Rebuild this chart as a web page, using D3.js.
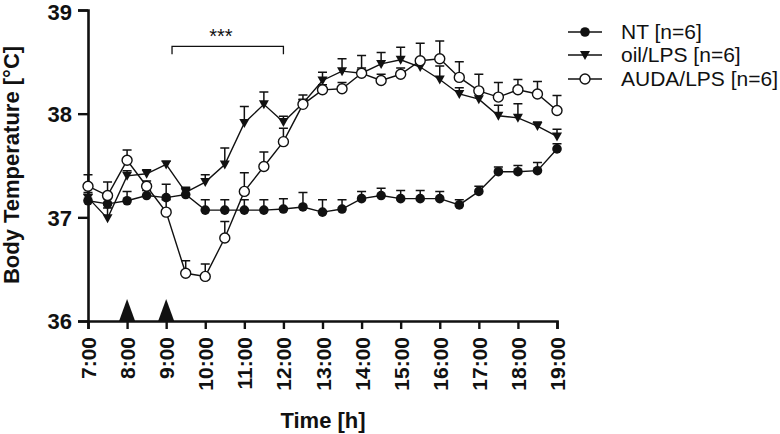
<!DOCTYPE html>
<html>
<head>
<meta charset="utf-8">
<script src="https://cdn.jsdelivr.net/npm/d3@7"></script>
<style>
  body { margin: 0; background: #fff; }
  svg { font-family: "Liberation Sans", Arial, sans-serif; }
</style>
</head>
<body>
<div id="draw"></div>
<script>
// body temperature time course, three groups, mean + upper SEM
var times = [7, 7.5, 8, 8.5, 9, 9.5, 10, 10.5, 11, 11.5, 12, 12.5, 13, 13.5, 14, 14.5, 15, 15.5, 16, 16.5, 17, 17.5, 18, 18.5, 19];
var hourTicks = [7, 8, 9, 10, 11, 12, 13, 14, 15, 16, 17, 18, 19];
var tempTicks = [36, 37, 38, 39];

var ntMean  = [37.16, 37.13, 37.16, 37.21, 37.19, 37.22, 37.07, 37.07, 37.07, 37.07, 37.08, 37.10, 37.05, 37.08, 37.18, 37.21, 37.18, 37.18, 37.18, 37.12, 37.25, 37.44, 37.44, 37.45, 37.66];
var ntErr   = [0.06, 0.05, 0.09, 0.05, 0.13, 0.06, 0.10, 0.10, 0.10, 0.10, 0.10, 0.14, 0.12, 0.09, 0.07, 0.07, 0.08, 0.08, 0.07, 0.05, 0.05, 0.045, 0.06, 0.08, 0.05];
var oilMean = [37.19, 36.99, 37.40, 37.42, 37.51, 37.24, 37.34, 37.51, 37.91, 38.09, 37.92, 38.10, 38.32, 38.41, 38.39, 38.48, 38.52, 38.45, 38.33, 38.19, 38.14, 37.98, 37.96, 37.88, 37.78];
var oilErr  = [0.05, 0.10, 0.05, 0.04, 0.03, 0.05, 0.07, 0.16, 0.16, 0.12, 0.055, 0.08, 0.08, 0.12, 0.17, 0.11, 0.12, 0.06, 0.13, 0.06, 0.06, 0.10, 0.135, 0.04, 0.07];
var audaMean = [37.30, 37.21, 37.55, 37.30, 37.05, 36.46, 36.43, 36.80, 37.25, 37.49, 37.73, 38.09, 38.23, 38.24, 38.39, 38.32, 38.38, 38.51, 38.53, 38.35, 38.22, 38.16, 38.23, 38.19, 38.03];
var audaErr  = [0.11, 0.13, 0.10, 0.05, 0.12, 0.12, 0.12, 0.16, 0.18, 0.14, 0.13, 0.05, 0.05, 0.06, 0.05, 0.06, 0.06, 0.17, 0.17, 0.15, 0.16, 0.14, 0.10, 0.12, 0.145];

var groupNames = ['NT [n=6]', 'oil/LPS [n=6]', 'AUDA/LPS [n=6]'];
var injections = [8, 9];          // LPS / treatment arrows on the x axis
var sigRange = [9.15, 12];        // *** bracket
var sigLevel = 38.65;

window.onload = function () {
    var svg = d3.select('#draw').append('svg').attr('width', 780).attr('height', 434);

    var x = d3.scaleLinear().domain([7, 19]).range([88, 557]);
    var y = d3.scaleLinear().domain([36, 39]).range([321, 10]);

    // axes
    var yAxis = d3.axisLeft(y).tickValues(tempTicks).tickSize(10).tickPadding(6).tickFormat(d3.format('d'));
    var gy = svg.append('g').attr('transform', 'translate(88,0)').call(yAxis);
    var xAxis = d3.axisBottom(x).tickValues(hourTicks).tickSize(8).tickFormat(function (d) { return d + ':00'; });
    var gx = svg.append('g').attr('transform', 'translate(0,321)').call(xAxis);

    [gx, gy].forEach(function (g) {
        g.select('.domain').attr('stroke', '#111').attr('stroke-width', 2.6);
        g.selectAll('.tick line').attr('stroke', '#111').attr('stroke-width', 2.4);
        g.selectAll('.tick text').attr('fill', '#111').style('font-size', '22px').style('font-weight', 'bold');
    });
    gy.selectAll('.tick text').attr('dy', '0.36em');
    gy.selectAll('.tick text').filter(function (d) { return d === 39; }).attr('dy', '0.42em');
    gx.selectAll('.tick text')
        .attr('transform', 'rotate(-90)')
        .attr('text-anchor', 'end')
        .attr('x', -16).attr('y', 0).attr('dy', '0.36em')
        .style('font-size', '21px');

    svg.append('text').attr('transform', 'translate(19,165) rotate(-90)')
        .attr('text-anchor', 'middle').style('font-size', '22px').style('font-weight', 'bold').attr('fill', '#111')
        .text('Body Temperature [°C]');
    svg.append('text').attr('x', 323).attr('y', 428)
        .attr('text-anchor', 'middle').style('font-size', '22px').style('font-weight', 'bold').attr('fill', '#111')
        .text('Time [h]');

    // injection arrowheads
    svg.selectAll('path.inj').data(injections).enter().append('path').attr('class', 'inj')
        .attr('d', function (d) { var cx = x(d); return 'M' + (cx - 8) + ',321 L' + cx + ',299 L' + (cx + 8) + ',321 Z'; })
        .attr('fill', '#111');

    // significance bracket
    var y0 = y(sigLevel), y1 = y(sigLevel) + 8;
    svg.append('path')
        .attr('d', 'M' + x(sigRange[0]) + ',' + y1 + ' V' + y0 + ' H' + x(sigRange[1]) + ' V' + y1)
        .attr('fill', 'none').attr('stroke', '#111').attr('stroke-width', 1.3);
    svg.append('text').attr('x', x(10.4)).attr('y', 43).attr('text-anchor', 'middle')
        .style('font-size', '20px').attr('fill', '#111').text('***');

    var groups = [
        { mean: ntMean, err: ntErr, shape: 'dot' },
        { mean: oilMean, err: oilErr, shape: 'tri' },
        { mean: audaMean, err: audaErr, shape: 'open' }
    ];

    var line = d3.line().x(function (d) { return x(d.t); }).y(function (d) { return y(d.v); });

    function addShape(m, shape) {
        if (shape === 'dot') {
            m.append('circle').attr('r', 4.8).attr('fill', '#111');
        } else if (shape === 'open') {
            m.append('circle').attr('r', 5).attr('fill', '#fff').attr('stroke', '#111').attr('stroke-width', 1.4);
        } else {
            m.append('path').attr('d', 'M-5,-4 L5,-4 L0,5 Z').attr('fill', '#111');
        }
    }

    groups.forEach(function (g) {
        var pts = times.map(function (t, i) { return { t: t, v: g.mean[i], e: g.err[i] }; });
        var layer = svg.append('g');
        // upper error bars
        layer.selectAll('path.err').data(pts).enter().append('path')
            .attr('d', function (d) {
                var cx = x(d.t), top = y(d.v + d.e);
                return 'M' + cx + ',' + y(d.v) + ' V' + top + ' M' + (cx - 4.5) + ',' + top + ' H' + (cx + 4.5);
            })
            .attr('stroke', '#111').attr('stroke-width', 1.5).attr('fill', 'none');
        layer.append('path').datum(pts).attr('d', line)
            .attr('fill', 'none').attr('stroke', '#111').attr('stroke-width', 1.4);
        var m = layer.selectAll('g.m').data(pts).enter().append('g')
            .attr('transform', function (d) { return 'translate(' + x(d.t) + ',' + y(d.v) + ')'; });
        addShape(m, g.shape);
    });

    // legend
    var leg = svg.selectAll('g.leg').data(groupNames).enter().append('g')
        .attr('transform', function (d, i) { return 'translate(0,' + [32, 55, 79][i] + ')'; });
    leg.append('line').attr('x1', 568).attr('x2', 602).attr('stroke', '#111').attr('stroke-width', 1.4);
    leg.each(function (d, i) {
        var m = d3.select(this).append('g').attr('transform', 'translate(585,0)');
        addShape(m, groups[i].shape);
    });
    leg.append('text').attr('x', 621).attr('y', 7).style('font-size', '21px').attr('fill', '#111')
        .text(function (d) { return d; });
};
</script>
</body>
</html>
